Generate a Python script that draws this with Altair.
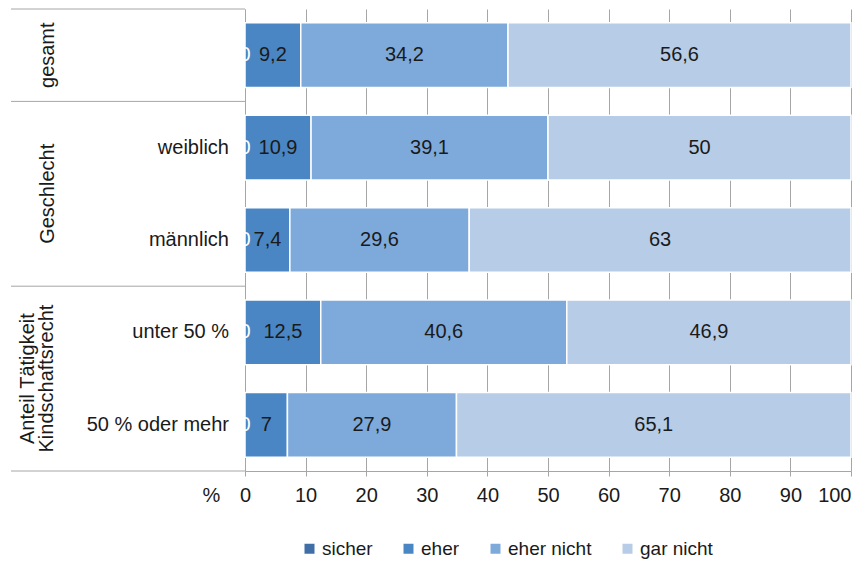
import altair as alt
import pandas as pd

# ---------------- data ----------------
rows = ["gesamt", "weiblich", "männlich", "unter 50 %", "50 % oder mehr"]
row_labels = ["", "weiblich", "männlich", "unter 50 %", "50 % oder mehr"]
groups = ["gesamt", "Geschlecht", "Anteil Tätigkeit\nKindschaftsrecht"]
row_group = [0, 1, 1, 2, 2]

series = ["sicher", "eher", "eher nicht", "gar nicht"]
colors = ["#3f6fa6", "#4a86c4", "#7eaadb", "#b7cce6"]
sicher = [0, 0, 0, 0, 0]
eher = [9.2, 10.9, 7.4, 12.5, 7]
eher_nicht = [34.2, 39.1, 29.6, 40.6, 27.9]
gar_nicht = [56.6, 50, 63, 46.9, 65.1]
x_ticks = [0, 10, 20, 30, 40, 50, 60, 70, 80, 90, 100]


def fmt(v):
    return f"{v:g}".replace(".", ",")


records = []
for s_i, (s, vals) in enumerate(zip(series, [sicher, eher, eher_nicht, gar_nicht])):
    for r, v in zip(rows, vals):
        records.append({"row": r, "series": s, "order": s_i, "value": v, "label": fmt(v)})
bars_df = pd.DataFrame(records)

n = len(rows)
left_rows = pd.DataFrame({"row_label": row_labels, "pos": [i + 0.5 for i in range(n)]})
grp_recs = []
for g_i, g in enumerate(groups):
    idx = [i for i, gg in enumerate(row_group) if gg == g_i]
    grp_recs.append({"group": g, "start": min(idx), "mid": (min(idx) + max(idx) + 1) / 2,
                     "multi": "\n" in g})
groups_df = pd.DataFrame(grp_recs)
lines_df = pd.DataFrame({"pos": list(groups_df["start"]) + [n]})

# ---------------- style ----------------
FONT = "Liberation Sans"
FS = 20
TXT = "#1a1a1a"
LINE = "#a6a6a6"
H = 462
LW = 234
RW = 606

# ---------------- left table panel ----------------
yq = alt.Scale(domain=[0, n], reverse=True, nice=False, zero=False)

rules = alt.Chart(lines_df).mark_rule(color=LINE, strokeWidth=1).encode(
    y=alt.Y("pos:Q", scale=yq, axis=None),
    x=alt.value(0),
    x2=alt.value(LW),
)
sub_text = alt.Chart(left_rows).mark_text(
    align="right", baseline="middle", font=FONT, fontSize=FS, color=TXT
).encode(
    y=alt.Y("pos:Q", scale=yq, axis=None),
    x=alt.value(LW - 16),
    text="row_label:N",
)
grp_single = alt.Chart(groups_df).transform_filter("!datum.multi").mark_text(
    angle=270, align="center", baseline="middle", font=FONT, fontSize=FS, color=TXT
).encode(
    y=alt.Y("mid:Q", scale=yq, axis=None),
    x=alt.value(37),
    text="group:N",
)
grp_multi = alt.Chart(groups_df).transform_filter("datum.multi").mark_text(
    angle=270, align="center", baseline="middle", font=FONT, fontSize=FS,
    color=TXT, lineBreak="\n", lineHeight=19
).encode(
    y=alt.Y("mid:Q", scale=yq, axis=None),
    x=alt.value(17),
    text="group:N",
)
left = alt.layer(rules, sub_text, grp_single, grp_multi).properties(width=LW, height=H)

# ---------------- bar panel ----------------
y_enc = alt.Y(
    "row:N", sort=rows,
    scale=alt.Scale(paddingInner=0.3, paddingOuter=0.15),
    axis=alt.Axis(labels=False, ticks=False, title=None, domain=True,
                  domainColor=LINE, grid=False),
)

base = alt.Chart(bars_df).transform_stack(
    stack="value", groupby=["row"],
    sort=[alt.SortField("order", "ascending")],
    as_=["x0", "x1"],
).transform_calculate(mid="(datum.x0 + datum.x1) / 2")

bars = base.mark_bar(stroke="white", strokeWidth=1.5).encode(
    x=alt.X(
        "x0:Q",
        scale=alt.Scale(domain=[0, 100], nice=False),
        axis=alt.Axis(
            values=x_ticks, title="%", grid=True, gridColor=LINE, gridWidth=1,
            domainColor=LINE, tickColor=LINE, tickSize=5,
            labelFont=FONT, labelFontSize=FS, labelColor=TXT, labelPadding=9,
            labelAlign={"condition": {"test": "datum.value === 100", "value": "right"},
                        "value": "center"},
            titleFont=FONT, titleFontSize=FS, titleFontWeight="normal", titleColor=TXT,
            titleX=-34, titleY=24, titleAngle=0, titleAlign="center", titleBaseline="middle",
        ),
    ),
    x2="x1:Q",
    y=y_enc,
    color=alt.Color(
        "series:N",
        scale=alt.Scale(domain=series, range=colors),
        legend=alt.Legend(
            title=None, orient="none", legendX=289, legendY=530,
            direction="horizontal", columns=4, columnPadding=26,
            symbolType="square", symbolSize=100, symbolStrokeWidth=0,
            labelFont=FONT, labelFontSize=19, labelColor=TXT, labelOffset=3,
        ),
    ),
    order=alt.Order("order:Q"),
)

labels = base.mark_text(font=FONT, fontSize=FS, baseline="middle").encode(
    x=alt.X("mid:Q"),
    y=alt.Y("row:N", sort=rows),
    text="label:N",
    color=alt.condition("datum.series === 'sicher'", alt.value("white"), alt.value(TXT)),
)

right = alt.layer(bars, labels).properties(width=RW, height=H)

chart = alt.hconcat(left, right, spacing=0, bounds="flush").properties(
    padding={"left": 2, "top": 0, "right": 0, "bottom": 0}
).configure_view(strokeWidth=0)

chart.save("out.html", embed_options={"renderer": "svg", "actions": False})
